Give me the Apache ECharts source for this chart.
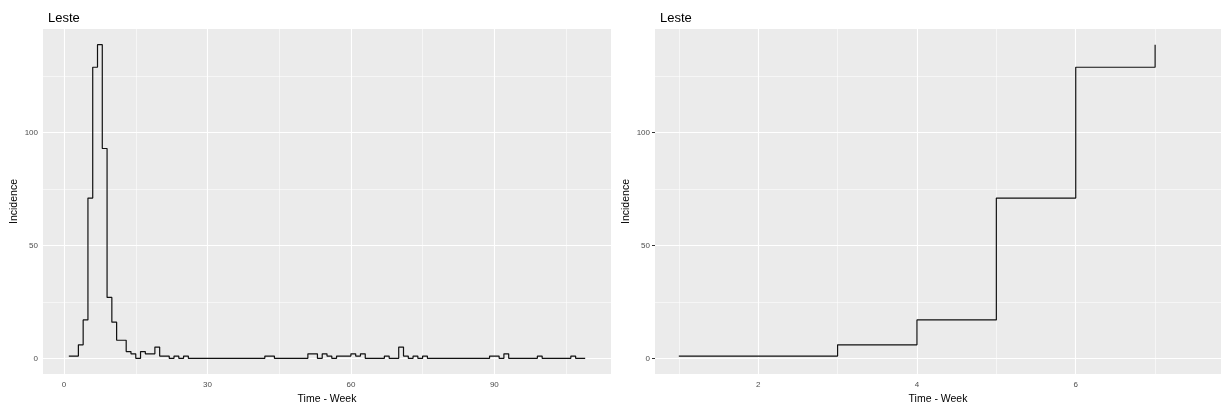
<!DOCTYPE html>
<html>
<head>
<meta charset="utf-8">
<script src="https://cdn.jsdelivr.net/npm/echarts@6/dist/echarts.min.js"></script>
<style>
  html, body { margin: 0; padding: 0; background: #ffffff; }
  #chart { width: 1221px; height: 410px; }
</style>
</head>
<body>
<div id="chart"></div>
<script>
// Weekly incidence, region "Leste"
const weeks = [
  1, 2, 3, 4, 5, 6, 7, 8, 9, 10,
  11, 12, 13, 14, 15, 16, 17, 18, 19, 20,
  21, 22, 23, 24, 25, 26, 27, 28, 29, 30,
  31, 32, 33, 34, 35, 36, 37, 38, 39, 40,
  41, 42, 43, 44, 45, 46, 47, 48, 49, 50,
  51, 52, 53, 54, 55, 56, 57, 58, 59, 60,
  61, 62, 63, 64, 65, 66, 67, 68, 69, 70,
  71, 72, 73, 74, 75, 76, 77, 78, 79, 80,
  81, 82, 83, 84, 85, 86, 87, 88, 89, 90,
  91, 92, 93, 94, 95, 96, 97, 98, 99, 100,
  101, 102, 103, 104, 105, 106, 107, 108, 109
];
const incidence = [
  1, 1, 6, 17, 71, 129, 139, 93, 27, 16,
  8, 8, 3, 2, 0, 3, 2, 2, 5, 1,
  1, 0, 1, 0, 1, 0, 0, 0, 0, 0,
  0, 0, 0, 0, 0, 0, 0, 0, 0, 0,
  0, 1, 1, 0, 0, 0, 0, 0, 0, 0,
  2, 2, 0, 2, 1, 0, 1, 1, 1, 2,
  1, 2, 0, 0, 0, 0, 1, 0, 0, 5,
  1, 0, 1, 0, 1, 0, 0, 0, 0, 0,
  0, 0, 0, 0, 0, 0, 0, 0, 1, 1,
  0, 2, 0, 0, 0, 0, 0, 0, 1, 0,
  0, 0, 0, 0, 0, 1, 0, 0, 0
];
// The zoomed panel shows the first weeks of the outbreak
const earlyWeekCount = 7;

// Tick labels and grid positions
const fullWeekTicks = [0, 30, 60, 90];
const fullWeekMinor = [15, 45, 75, 105];
const earlyWeekTicks = [2, 4, 6];
const earlyWeekMinor = [1, 3, 5, 7];
const incidenceTicks = [0, 50, 100];
const incidenceMinor = [25, 75, 125];

const FONT = '"Liberation Sans", Arial, Helvetica, sans-serif';
const PANEL_BG = '#EBEBEB';

const fullSeries = weeks.map((w, i) => [w, incidence[i]]);
const earlySeries = fullSeries.slice(0, earlyWeekCount);

function panelGridLines(xMajor, xMinor) {
  const major = { lineStyle: { color: '#ffffff', width: 1.1, type: 'solid' } };
  const minor = { lineStyle: { color: '#ffffff', width: 0.55, type: 'solid' } };
  return [
    ...xMinor.map(v => Object.assign({ xAxis: v }, minor)),
    ...incidenceMinor.map(v => Object.assign({ yAxis: v }, minor)),
    ...xMajor.map(v => Object.assign({ xAxis: v }, major)),
    ...incidenceTicks.map(v => Object.assign({ yAxis: v }, major))
  ];
}

function xAxisFor(gridIndex, min, max, ticks) {
  return {
    type: 'value', gridIndex, min, max,
    name: 'Time - Week', nameLocation: 'middle', nameGap: 20,
    nameTextStyle: { color: '#000000', fontSize: 10.5, fontFamily: FONT },
    axisLine: { show: false },
    axisTick: { show: true, customValues: ticks, length: 3, lineStyle: { color: '#333333', width: 1 } },
    axisLabel: { customValues: ticks, margin: 7, color: '#4D4D4D', fontSize: 8, fontFamily: FONT },
    splitLine: { show: false },
    minorSplitLine: { show: false }
  };
}

function yAxisFor(gridIndex) {
  return {
    type: 'value', gridIndex, min: -6.95, max: 145.95,
    name: 'Incidence', nameLocation: 'middle', nameGap: 23,
    nameTextStyle: { color: '#000000', fontSize: 10.5, fontFamily: FONT },
    axisLine: { show: false },
    axisTick: { show: true, customValues: incidenceTicks, length: 3, lineStyle: { color: '#333333', width: 1 } },
    axisLabel: { customValues: incidenceTicks, margin: 5, color: '#4D4D4D', fontSize: 8, fontFamily: FONT },
    splitLine: { show: false },
    minorSplitLine: { show: false }
  };
}

function gridBackground(idx, xMajor, xMinor) {
  return {
    type: 'line', xAxisIndex: idx, yAxisIndex: idx,
    data: idx === 0 ? fullSeries : earlySeries,
    symbol: 'none', silent: true, z: 1,
    lineStyle: { opacity: 0 },
    markLine: {
      silent: true, symbol: ['none', 'none'], animation: false,
      label: { show: false },
      emphasis: { disabled: true },
      data: panelGridLines(xMajor, xMinor)
    }
  };
}

function stepLine(idx, data) {
  return {
    type: 'line', xAxisIndex: idx, yAxisIndex: idx,
    data, step: 'end', symbol: 'none', z: 5,
    lineStyle: { color: '#111111', width: 1.2 },
    emphasis: { disabled: true }
  };
}

const chart = echarts.init(document.getElementById('chart'), null, { renderer: 'canvas' });
chart.setOption({
  animation: false,
  backgroundColor: '#ffffff',
  title: [
    { text: 'Leste', left: 43, top: 7, textStyle: { fontSize: 13, fontWeight: 'normal', color: '#000000', fontFamily: FONT } },
    { text: 'Leste', left: 655, top: 7, textStyle: { fontSize: 13, fontWeight: 'normal', color: '#000000', fontFamily: FONT } }
  ],
  grid: [
    { left: 43, top: 29, width: 568, height: 352, show: true, backgroundColor: PANEL_BG, borderWidth: 0, containLabel: false },
    { left: 655, top: 29, width: 566, height: 352, show: true, backgroundColor: PANEL_BG, borderWidth: 0, containLabel: false }
  ],
  xAxis: [
    xAxisFor(0, -4.4, 114.4, fullWeekTicks),
    xAxisFor(1, 0.7, 7.83, earlyWeekTicks)
  ],
  yAxis: [yAxisFor(0), yAxisFor(1)],
  series: [
    gridBackground(0, fullWeekTicks, fullWeekMinor),
    gridBackground(1, earlyWeekTicks, earlyWeekMinor),
    stepLine(0, fullSeries),
    stepLine(1, earlySeries)
  ]
});
</script>
</body>
</html>
